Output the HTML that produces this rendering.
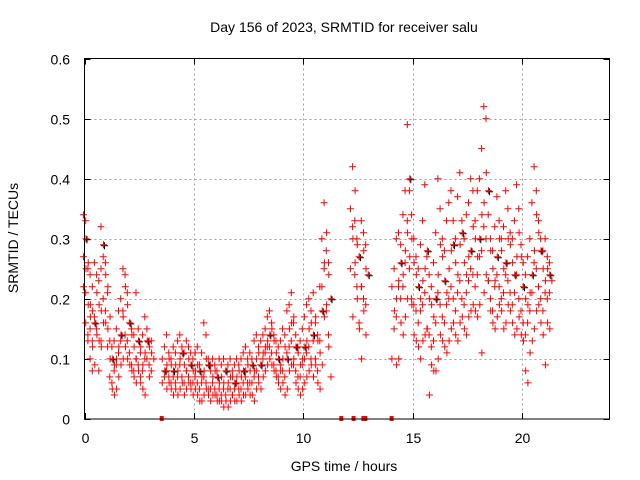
<!DOCTYPE html>
<html><head><meta charset="utf-8"><style>
body{margin:0;background:#fff}
svg{display:block;font-family:"Liberation Sans",sans-serif}
</style></head><body>
<svg id="chart" width="640" height="480" viewBox="0 0 640 480" xmlns="http://www.w3.org/2000/svg">
<text x="344" y="32" font-size="14" text-anchor="middle">Day 156 of 2023, SRMTID for receiver salu</text>
<text x="344" y="471" font-size="14" text-anchor="middle">GPS time / hours</text>
<text x="18" y="238" font-size="14" text-anchor="middle" transform="rotate(-90 18 238)">SRMTID / TECUs</text>
<g id="grid"></g>
<g id="ticks"></g>
<g id="points"></g>
<g id="marks"></g>
<rect x="84.5" y="58.5" width="525" height="360.5" fill="none" stroke="#000" stroke-width="1"/>
</svg>
<script>
const xTicks=[0,5,10,15,20];
const yTicks=[0,0.1,0.2,0.3,0.4,0.5,0.6];
const yTickLabels=["0","0.1","0.2","0.3","0.4","0.5","0.6"];
const hours=[0.0,0.1,0.2,0.3,0.4,0.5,0.6,0.7,0.8,0.9,1.0,1.1,1.2,1.3,1.4,1.5,1.6,1.7,1.8,1.9,2.0,2.1,2.2,2.3,2.4,2.5,2.6,2.7,2.8,2.9,3.0,3.1,
3.6,3.7,3.8,3.9,4.0,4.1,4.2,4.3,4.4,4.5,4.6,4.7,4.8,4.9,5.0,5.1,5.2,5.3,5.4,5.5,5.6,5.7,5.8,5.9,6.0,6.1,6.2,6.3,6.4,6.5,6.6,6.7,6.8,6.9,7.0,7.1,7.2,7.3,7.4,7.5,7.6,7.7,7.8,7.9,
8.0,8.1,8.2,8.3,8.4,8.5,8.6,8.7,8.8,8.9,9.0,9.1,9.2,9.3,9.4,9.5,9.6,9.7,9.8,9.9,10.0,10.1,10.2,10.3,10.4,10.5,10.6,10.7,10.8,10.9,11.0,11.1,11.2,
12.2,12.3,12.4,12.5,12.6,12.7,12.8,12.9,
14.1,14.2,14.3,14.4,14.5,14.6,14.7,14.8,14.9,15.0,15.1,15.2,15.3,15.4,15.5,15.6,15.7,15.8,15.9,16.0,16.1,16.2,16.3,16.4,16.5,16.6,16.7,16.8,16.9,17.0,
17.1,17.2,17.3,17.4,17.5,17.6,17.7,17.8,17.9,18.0,18.1,18.2,18.3,18.4,18.5,18.6,18.7,18.8,18.9,19.0,19.1,19.2,19.3,19.4,19.5,19.6,19.7,19.8,19.9,20.0,
20.1,20.2,20.3,20.4,20.5,20.6,20.7,20.8,20.9,21.0,21.1,21.2,21.3];
const tec=[[.34,.30,.27,.25,.22],[.33,.26,.21,.19,.16],[.25,.19,.14,.17,.13],[.24,.18,.15,.12,.10],[.22,.16,.13,.09,.08],[.26,.21,.17,.14],[.24,.19,.15,.13],[.23,.18,.08,.12],[.32,.29,.25,.16,.13],[.27,.24,.20,.16],[.26,.22,.18,.15],[.21,.17,.12,.10],[.13,.10,.07,.05],[.12,.09,.06,.04],[.13,.10,.08,.05],[.15,.12,.09,.07],[.18,.14,.11,.09],[.20,.17,.13,.10],[.25,.22,.18,.12],[.24,.19,.14,.10],[.21,.16,.13,.09],[.16,.14,.11,.08],[.15,.12,.09,.07],[.14,.10,.08,.06],[.21,.13,.10,.08],[.15,.12,.09,.06],[.11,.09,.07,.05],[.14,.11,.08,.04],[.17,.13,.10],[.15,.12,.10,.07],[.13,.11,.09],[.13,.10,.08],
[.10,.08,.06],[.12,.09,.07,.05],[.14,.10,.08,.06],[.11,.09,.07,.05],[.10,.08,.06,.04],[.12,.09,.07,.05],[.11,.08,.06,.04],[.13,.10,.07,.05],[.14,.11,.09,.06],[.12,.09,.07,.04],[.11,.08,.06,.05],[.13,.10,.08,.06],[.12,.09,.07,.05],[.11,.08,.06,.04],[.10,.08,.06,.05],[.11,.09,.07,.04],[.12,.08,.06,.03],[.09,.07,.05,.03],[.11,.08,.06,.04],[.16,.10,.07,.05],[.14,.09,.06,.04],[.10,.08,.05,.03],[.09,.07,.05,.04],[.10,.08,.06,.04],[.09,.07,.05,.03],[.08,.06,.04,.03],[.10,.07,.05,.03],[.09,.06,.04,.02],[.10,.08,.05,.03],[.08,.06,.04,.02],[.09,.07,.05,.03],[.10,.07,.05,.04],[.08,.06,.04,.03],[.09,.07,.05,.03],[.10,.08,.06,.04],[.09,.07,.05,.03],[.10,.08,.05,.04],[.11,.08,.06,.04],[.12,.09,.07,.05],[.10,.08,.06,.04],[.11,.09,.06,.04],[.10,.08,.06,.03],[.13,.10,.07,.05],[.14,.11,.08,.06],
[.12,.09,.07,.05],[.13,.11,.09,.07],[.14,.12,.10,.08],[.15,.13,.11,.09],[.17,.14,.12,.10],[.18,.15,.12,.09],[.16,.13,.11,.08],[.14,.11,.09,.07],[.13,.10,.08,.06],[.12,.09,.07,.05],[.13,.10,.08,.06],[.15,.12,.08,.04],[.14,.10,.07,.05],[.18,.15,.11,.08],[.19,.16,.12,.09],[.21,.17,.13,.10],[.16,.12,.09,.06],[.14,.11,.08,.05],[.12,.09,.07,.04],[.13,.10,.07,.05],[.15,.12,.09,.06],[.17,.13,.10,.07],[.19,.15,.11,.08],[.20,.16,.12,.09],[.18,.14,.10,.07],[.21,.17,.13,.09],[.16,.13,.10,.06],[.14,.11,.08,.05],[.22,.18,.13,.09],[.30,.26,.22,.17],[.36,.31,.25,.19],[.28,.24,.18,.12],[.26,.20,.14,.07],
[.35,.30,.25,.17],[.42,.38,.32,.26],[.33,.29,.24,.20],[.30,.27,.22,.15],[.27,.22,.16,.10],[.33,.28,.22,.18],[.31,.25,.20,.14],[.29,.24,.19],
[.22,.18,.10],[.25,.20,.15,.09],[.30,.23,.17,.10],[.31,.26,.22,.16],[.29,.24,.20,.14],[.34,.28,.22,.17],[.38,.31,.26,.20],[.49,.40,.33,.27],[.38,.30,.25,.19],[.34,.26,.20,.14],[.30,.24,.19,.13],[.27,.22,.18,.12],[.25,.20,.16,.10],[.29,.23,.18,.13],[.33,.25,.19,.14],[.39,.28,.21,.15],[.27,.20,.15,.04],[.24,.19,.14,.09],[.22,.17,.12,.08],[.26,.20,.13,.08],[.31,.24,.16,.10],[.40,.29,.21,.14],[.35,.27,.19,.13],[.30,.23,.17,.12],[.28,.21,.16,.11],[.33,.25,.19,.13],[.36,.28,.20,.15],[.38,.29,.22,.16],[.33,.26,.20,.14],[.30,.24,.18,.13],
[.37,.29,.21,.16],[.41,.31,.23,.17],[.33,.26,.20,.15],[.30,.24,.19,.14],[.34,.27,.21,.17],[.36,.28,.23,.18],[.40,.32,.25,.19],[.38,.30,.24,.18],[.33,.27,.22,.17],[.38,.30,.24,.19],[.40,.34,.27,.11],[.45,.36,.28,.21],[.52,.41,.32,.24],[.50,.38,.30,.23],[.34,.28,.23,.18],[.30,.25,.20,.16],[.28,.23,.18,.15],[.32,.27,.22,.17],[.37,.30,.24,.19],[.33,.28,.22,.18],[.30,.25,.20,.15],[.32,.26,.21,.16],[.38,.30,.24,.19],[.35,.29,.23,.18],[.31,.26,.21,.16],[.30,.24,.19,.14],[.33,.27,.21,.15],[.39,.31,.24,.17],[.35,.27,.20,.14],[.29,.22,.18,.13],
[.26,.20,.16,.08],[.24,.19,.14,.06],[.27,.21,.16,.11],[.30,.24,.18,.13],[.36,.28,.21,.15],[.42,.34,.26,.18],[.38,.31,.25,.19],[.33,.28,.22,.16],[.30,.25,.20,.14],[.28,.23,.18,.09],[.30,.25,.21,.16],[.27,.24,.20,.15],[.26,.23,.21]];
const eventHours=[3.53,11.74,12.3,12.75,12.84,14.04];

const NS="http://www.w3.org/2000/svg";
const X0=84.5,X1=609.5,Y0=419,Y1=58.5,XMAX=24,YMAX=0.6;
function sx(t){return X0+(X1-X0)*t/XMAX;}
function sy(v){return Y0-(Y0-Y1)*v/YMAX;}
function mk(tag,attrs,parent){const e=document.createElementNS(NS,tag);for(const k in attrs)e.setAttribute(k,attrs[k]);parent.appendChild(e);return e;}
const grid=document.getElementById('grid'),ticks=document.getElementById('ticks'),pts=document.getElementById('points'),marks=document.getElementById('marks');
xTicks.forEach(t=>{
  const x=Math.round(sx(t))+0.5;
  if(t>0){const g=mk('line',{x1:x,x2:x,y1:Y1,y2:Y0,stroke:'#a0a0a0','stroke-dasharray':'2,3'},grid);
  
  }
  const a=mk('path',{d:`M${x},${Y0}v-6M${x},${Y1}v6`,stroke:'#000'},ticks);
  
  
  const l=mk('text',{x:x,y:443,'font-size':14,'text-anchor':'middle'},ticks);
  
  
  l.textContent=String(t);
});
yTicks.forEach((v,i)=>{
  const y=Math.round(sy(v))+0.5;
  if(v>0&&v<YMAX){const g=mk('line',{x1:X0,x2:X1,y1:y,y2:y,stroke:'#a0a0a0','stroke-dasharray':'2,3'},grid);
  
  }
  const a=mk('path',{d:`M${X0},${y}h6M${X1},${y}h-6`,stroke:'#000'},ticks);
  
  
  const l=mk('text',{x:70,y:y+5,'font-size':14,'text-anchor':'end'},ticks);
  
  
  l.textContent=yTickLabels[i];
});
let d='',db='';
hours.forEach((t,i)=>{
  (tec[i]||[]).forEach((v,j)=>{
    const x=sx(t)+((j%2)?1.5:-1),y=sy(v);
    d+=`M${(x-3.5).toFixed(1)},${y.toFixed(1)}h7M${x.toFixed(1)},${(y-3.5).toFixed(1)}v7`;
    if(j===1&&i%4===0)db+=`M${(x-2.5).toFixed(1)},${(y+1).toFixed(1)}h7M${(x+1).toFixed(1)},${(y-2.5).toFixed(1)}v7`;
  });
});
const pb=mk('path',{d:db,stroke:'#000','stroke-width':1,fill:'none'},pts);


const pr=mk('path',{d:d,stroke:'#ff0000','stroke-width':1,fill:'none'},pts);


eventHours.forEach(t=>{
  const r=mk('rect',{x:sx(t)-2,y:Y0-3,width:4,height:5,fill:'#ff0000'},marks);
  
  
});
</script>
</body></html>
